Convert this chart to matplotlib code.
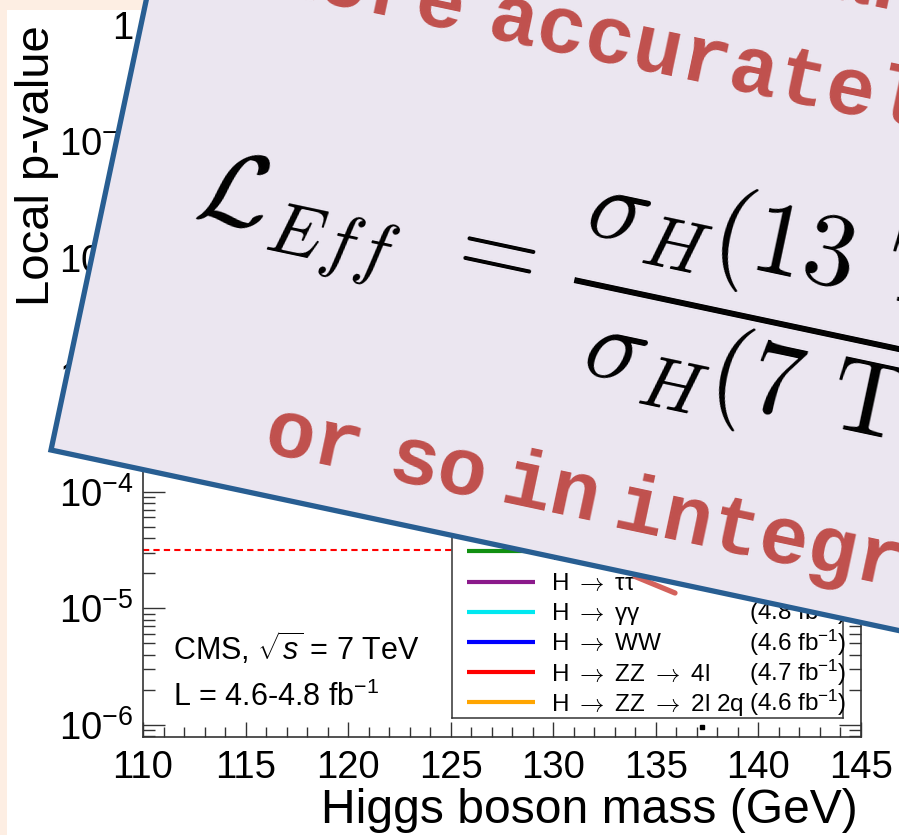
import matplotlib
matplotlib.use("Agg")
import matplotlib.pyplot as plt
from matplotlib.patches import Polygon, Rectangle
from matplotlib.ticker import FixedLocator, MultipleLocator, LogLocator, NullFormatter

plt.rcParams['font.family'] = ['Liberation Sans', 'DejaVu Sans']
plt.rcParams['mathtext.fontset'] = 'custom'
plt.rcParams['mathtext.rm'] = 'Liberation Sans'
plt.rcParams['mathtext.it'] = 'Liberation Sans:italic'
plt.rcParams['mathtext.bf'] = 'Liberation Sans:bold'

W, H = 899, 835

# --- CMS 2011 local p-value plot ---
mass_range = [110, 145]
pvalue_range = [7.89e-7, 1.237]
mass_ticks = [110, 115, 120, 125, 130, 135, 140, 145]
decades = [1, 1e-1, 1e-2, 1e-3, 1e-4, 1e-5, 1e-6]
decade_labels = ['1', '10$^{-1}$', '10$^{-2}$', '10$^{-3}$',
                 '10$^{-4}$', '10$^{-5}$', '10$^{-6}$']
# 1, 2, 3, 4 sigma local significance
sigma_pvalues = [1.587e-1, 2.275e-2, 1.350e-3, 3.167e-5]
stray_mass = [137.25]
stray_pvalue = [9.6e-7]

arrow = r'$\rightarrow$'
channel_labels = ['Combined obs.', 'Exp. for SM H', 'H ' + arrow + ' bb',
                  'H ' + arrow + ' ττ', 'H ' + arrow + ' γγ', 'H ' + arrow + ' WW',
                  'H ' + arrow + ' ZZ ' + arrow + ' 4l',
                  'H ' + arrow + ' ZZ ' + arrow + ' 2l 2q']
channel_lumis = ['', '', '(4.7 fb$^{-1}$)', '(4.6 fb$^{-1}$)', '(4.8 fb$^{-1}$)',
                 '(4.6 fb$^{-1}$)', '(4.7 fb$^{-1}$)', '(4.6 fb$^{-1}$)']
channel_colors = ['black', 'black', '#119011', '#8b1a8b', '#00e8f0',
                  '#0000ff', '#ff0000', '#ffa500']
channel_styles = ['-', '--', '-', '-', '-', '-', '-', '-']

# --- slide overlay text (word, anchor x, anchor y) ---
slide_words = [
    ('than', 726, -24),
    ('more', 267, -9),
    ('accurately', 485, 37),
    ('or', 262, 452),
    ('so', 385, 479),
    ('in', 498, 502),
    ('integrated', 611, 527),
]
formula = (r'$\mathcal{L}_{Eff}\;\,=\:'
           r'\dfrac{\sigma_H(13\ \mathrm{TeV})}{\sigma_H(7\ \mathrm{TeV})}$')

tilt = 12.0
panel_corners = [(51, 450), (1225, 700), (1370, 15), (196, -235)]

fig = plt.figure(figsize=(W / 100, H / 100), dpi=100)
fig.patch.set_facecolor('#fdeee3')


def fig_box(left, top, right, bottom):
    return [left / W, 1 - bottom / H, (right - left) / W, (bottom - top) / H]


# full-figure axes in pixel coordinates for the white page and labels
base = fig.add_axes([0, 0, 1, 1], zorder=0)
base.set_xlim(0, W)
base.set_ylim(H, 0)
base.axis('off')
base.add_patch(Rectangle((7, 10), W, H, facecolor='white', edgecolor='none'))
base.text(37, 25, 'Local p-value', rotation=90, ha='center', va='top', fontsize=34)
base.text(858, 823, 'Higgs boson mass (GeV)', ha='right', va='baseline',
          fontsize=34.6)

ax = fig.add_axes(fig_box(143, 14, 861, 737), zorder=1)
ax.set_facecolor('none')
ax.set_yscale('log')
ax.set_xlim(*mass_range)
ax.set_ylim(*pvalue_range)
for p in sigma_pvalues:
    ax.plot(mass_range, [p, p], color='red', lw=1.5, ls=(0, (3, 2)))
ax.plot(stray_mass, stray_pvalue, 's', color='black', ms=2.5)

ax.xaxis.set_major_locator(FixedLocator(mass_ticks))
ax.xaxis.set_minor_locator(MultipleLocator(1))
ax.yaxis.set_major_locator(FixedLocator(decades))
ax.set_yticklabels(decade_labels)
ax.yaxis.set_minor_locator(LogLocator(base=10, subs=range(2, 10), numticks=20))
ax.yaxis.set_minor_formatter(NullFormatter())
ax.tick_params(which='both', direction='in', top=True, right=True,
               color='#333333', width=1.0, labelsize=27.5)
ax.tick_params(axis='x', which='major', length=11, pad=9)
ax.tick_params(axis='x', which='minor', length=7)
ax.tick_params(axis='y', which='major', length=16, pad=7)
ax.tick_params(axis='y', which='minor', length=8.5)
for s in ax.spines.values():
    s.set_linewidth(1.2)
    s.set_color('#333333')

ax.text(173, 660, r'CMS, $\sqrt{s}$ = 7 TeV', transform=base.transData,
        fontsize=22, va='baseline')
ax.text(173, 706, 'L = 4.6-4.8 fb$^{-1}$', transform=base.transData,
        fontsize=22, va='baseline')

# legend box, drawn in pixel coordinates
lax = fig.add_axes(fig_box(452, 470, 843, 718), zorder=2)
lax.set_xlim(452, 843)
lax.set_ylim(718, 470)
lax.set_xticks([])
lax.set_yticks([])
for s in lax.spines.values():
    s.set_linewidth(1.1)
    s.set_color('#333333')
n = len(channel_labels)
for i in range(n):
    y = 702.3 - 30.2 * (n - 1 - i)
    lax.plot([467, 535], [y, y], color=channel_colors[i], lw=3,
             ls=channel_styles[i], solid_capstyle='butt')
    lax.text(551, y + 8.5, channel_labels[i], fontsize=17.5, va='baseline',
             math_fontfamily='cm')
    lax.text(749, y + 8.5, channel_lumis[i], fontsize=17.5, va='baseline')

# tilted slide panel on top
ov = fig.add_axes([0, 0, 1, 1], zorder=3)
ov.set_xlim(0, W)
ov.set_ylim(H, 0)
ov.axis('off')
ov.plot([635, 675], [576.5, 593], color='#d4625c', lw=3.8,
        solid_capstyle='round', zorder=1)
ov.add_patch(Polygon(panel_corners, closed=True, facecolor='#ebe6f0',
                     edgecolor='#285e92', lw=3.8, zorder=2))
for word, x, y in slide_words:
    ov.text(x, y, word, rotation=-tilt, rotation_mode='anchor', ha='left',
            va='baseline', fontsize=59, color='#c0504d',
            family='Liberation Mono', weight='bold', zorder=3)
ov.text(192, 217, formula, rotation=-tilt, rotation_mode='anchor', ha='left',
        va='baseline', fontsize=75, color='black', math_fontfamily='cm',
        zorder=3)

fig.savefig('out.png', dpi=100, facecolor=fig.get_facecolor())
